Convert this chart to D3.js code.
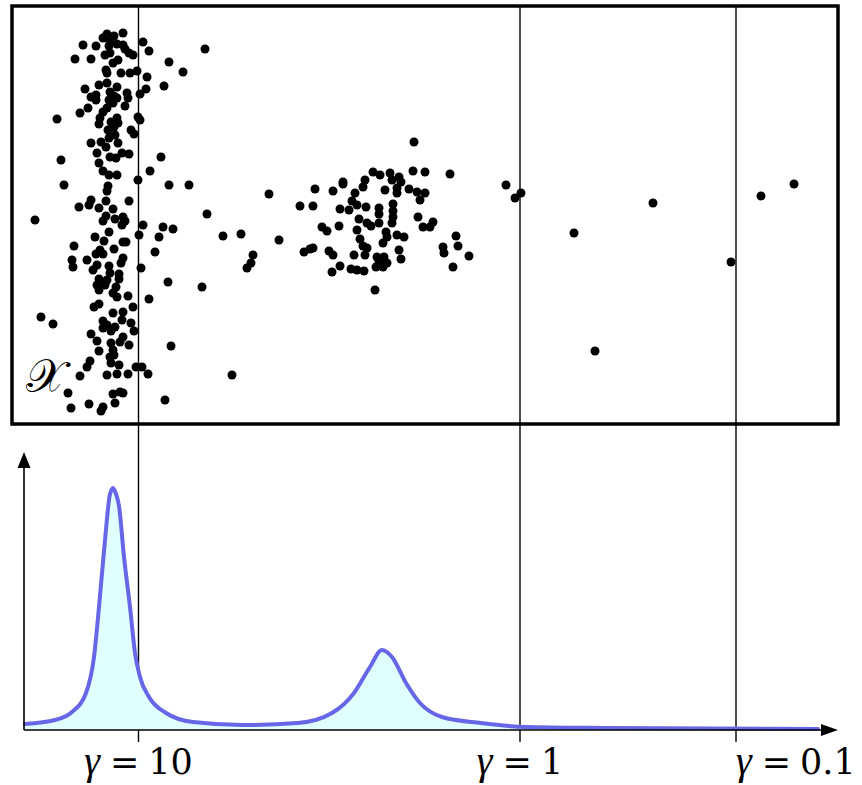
<!DOCTYPE html>
<html>
<head>
<meta charset="utf-8">
<script src="https://cdn.jsdelivr.net/npm/d3@7"></script>
<style>
  html, body { margin: 0; padding: 0; background: #fff; }
  svg { display: block; }
</style>
</head>
<body>
<script>
// ---------- DATA ----------
// Scatter points in the input space 𝒳 (x: 0..826 along the γ direction, y: 0..418 vertical)
const pointsX = [
111,95,102,91,98,71,84,131,193,97,105,111,113,137,98,117,121,93,63,79,106,101,157,171,94,95,109,118,125,135,
95,87,105,152,73,134,98,115,84,79,102,97,105,116,128,84,101,113,95,76,68,91,45,88,126,128,105,99,106,87,
102,96,119,122,103,97,79,89,106,94,85,49,98,110,117,149,104,
87,91,97,105,138,52,126,157,177,96,95,79,94,117,67,77,87,101,195,23,94,91,103,111,113,110,131,151,161,97,
127,147,83,92,111,114,62,102,88,143,84,91,60,75,111,109,61,85,97,81,129,98,107,87,95,107,85,93,156,190,104,87,
101,105,116,137,87,82,29,41,121,101,111,91,110,119,95,103,91,99,122,79,111,85,99,108,117,159,87,101,98,102,
78,75,99,107,124,130,68,95,105,116,136,56,101,108,111,77,59,91,89,103,153,220,
402,361,368,378,387,401,413,438,353,331,380,389,303,321,331,351,373,385,397,405,413,257,343,385,408,288,301,
340,345,354,328,337,367,381,381,347,367,381,406,421,355,367,380,411,418,310,315,327,359,345,374,211,229,267,
348,375,385,392,444,371,351,292,298,301,317,321,355,387,431,446,432,457,241,239,235,342,353,365,372,389,367,
375,364,371,328,320,339,345,352,441,363,
494,503,509,562,641,583,719,749,782
];
const pointsY = [
391,390,388,386,383,379,378,382,375,378,380,379,375,373,371,371,369,369,365,365,364,361,362,352,354,351,351,351,353,347,
341,339,337,338,335,335,332,331,329,327,328,324,326,326,330,324,321,318,316,316,311,312,305,306,307,304,306,302,301,300,
297,294,294,290,289,286,281,282,281,277,271,264,267,271,270,267,266,
261,253,249,249,253,239,244,239,239,238,233,224,223,223,217,219,216,215,210,204,208,203,205,207,203,199,199,197,195,192,
189,187,187,183,182,182,178,175,174,172,170,170,164,164,166,161,157,159,158,154,156,151,150,145,144,145,139,139,142,137,137,134,
131,127,128,125,120,117,107,100,117,111,112,103,104,101,99,97,96,93,93,90,87,83,81,82,79,78,73,74,67,69,
63,57,61,59,57,57,48,49,50,50,50,31,30,32,31,20,16,17,13,21,24,49,
282,252,249,251,247,253,252,250,244,242,244,242,235,233,240,237,234,236,235,232,231,230,231,231,224,218,218,
223,219,217,215,214,216,220,213,205,210,207,207,202,201,201,201,197,197,197,193,198,198,194,192,188,190,184,
185,187,189,187,188,181,178,172,175,176,173,169,176,174,177,178,171,168,169,161,156,169,169,167,167,165,161,
161,157,157,158,152,155,154,153,157,134,
239,226,231,191,221,73,162,228,240
];

// γ reference lines along the same axis
const gammaValues = ["10", "1", "0.1"];
const gammaPos    = [126.5, 508, 724];

// Density along the γ axis
const curveX = [13,43,60,74,82,87,93,98,101,104,107,112,118,123,128,137,154,181,231,286,320,342,358,370,380,394,408,430,469,513,596,806];
const curveD = [6,10,18,37,73,123,190,236,242,236,224,173,123,77,53,33,17,8,5,7,17,37,63,80,73,47,27,13,7,3,2,1];

// ---------- LAYOUT ----------
const W = 862, H = 785;
const box = {x0: 12, x1: 838, y0: 6, y1: 424};
const axisY = 730, axisTop = 452, axisX0 = 24, axisX1 = 838;

const svg = d3.select("body").append("svg")
  .attr("width", W).attr("height", H)
  .attr("viewBox", `0 0 ${W} ${H}`);

const x = d3.scaleLinear().domain([0, 826]).range([box.x0, box.x1]);
const y = d3.scaleLinear().domain([0, 418]).range([box.y1, box.y0]);
const yd = d3.scaleLinear().domain([0, 278]).range([axisY, axisTop]);

// Vertical γ lines
svg.append("g").selectAll("line").data(gammaPos).join("line")
  .attr("x1", d => x(d)).attr("x2", d => x(d))
  .attr("y1", box.y0).attr("y2", 742)
  .attr("stroke", "#000").attr("stroke-width", 1.4);

// Box
svg.append("rect")
  .attr("x", box.x0).attr("y", box.y0)
  .attr("width", box.x1 - box.x0).attr("height", box.y1 - box.y0)
  .attr("fill", "none").attr("stroke", "#000").attr("stroke-width", 3.5);

// Points
const pts = pointsX.map((v, i) => [v, pointsY[i]]);
svg.append("g").selectAll("circle").data(pts).join("circle")
  .attr("cx", d => x(d[0])).attr("cy", d => y(d[1]))
  .attr("r", 4.5).attr("fill", "#000");

// 𝒳 label
svg.append("text")
  .attr("x", box.x0 + 14).attr("y", 392)
  .attr("font-family", "'DejaVu Serif', 'Noto Sans', serif")
  .attr("font-size", 46)
  .text("𝒳");

// Density curve
const cdata = curveX.map((v, i) => [v, curveD[i]]);
const area = d3.area().x(d => x(d[0])).y0(yd(0)).y1(d => yd(d[1])).curve(d3.curveMonotoneX);
const line = d3.line().x(d => x(d[0])).y(d => yd(d[1])).curve(d3.curveMonotoneX);
svg.append("path").datum(cdata).attr("d", area).attr("fill", "#e0ffff");
svg.append("path").datum(cdata).attr("d", line)
  .attr("fill", "none").attr("stroke", "#6666e6").attr("stroke-width", 4)
  .attr("stroke-linejoin", "round").attr("stroke-linecap", "round");

// Axes with arrowheads
const ax = svg.append("g");
ax.append("line").attr("x1", axisX0).attr("x2", axisX1 - 14).attr("y1", axisY).attr("y2", axisY)
  .attr("stroke", "#000").attr("stroke-width", 1.6);
ax.append("line").attr("x1", axisX0).attr("x2", axisX0).attr("y1", axisY).attr("y2", axisTop + 14)
  .attr("stroke", "#000").attr("stroke-width", 1.6);
ax.append("path")
  .attr("d", `M${axisX1},${axisY} L${axisX1 - 17},${axisY - 6} L${axisX1 - 17},${axisY + 6} Z`)
  .attr("fill", "#000");
ax.append("path")
  .attr("d", `M${axisX0},${axisTop} L${axisX0 - 6.5},${axisTop + 16} L${axisX0 + 6.5},${axisTop + 16} Z`)
  .attr("fill", "#000");

// γ labels (last one starts at its line, the others are centred)
const n = gammaPos.length;
const lbl = svg.append("g").selectAll("text").data(gammaPos).join("text")
  .attr("x", d => x(d)).attr("y", 774)
  .attr("text-anchor", (d, i) => i === n - 1 ? "start" : "middle")
  .attr("font-family", "'DejaVu Serif', serif")
  .attr("font-size", 35)
  .attr("fill", "#000");
lbl.append("tspan").attr("font-family", "'Liberation Serif', serif").attr("font-style", "italic")
  .attr("font-size", 40).text("γ");
lbl.append("tspan").attr("dx", 10).text("=");
lbl.append("tspan").attr("dx", 9).text((d, i) => gammaValues[i]);
</script>
</body>
</html>
